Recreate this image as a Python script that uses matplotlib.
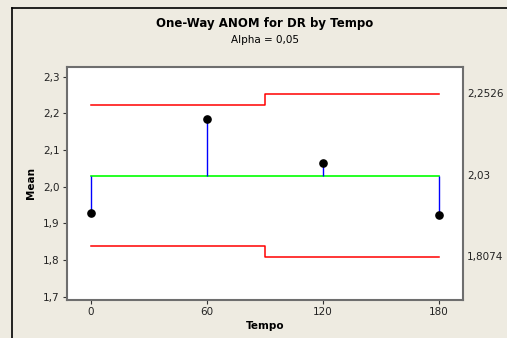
import matplotlib
matplotlib.use("Agg")
import matplotlib.pyplot as plt
from matplotlib.lines import Line2D

# Group means of DR by Tempo
tempo = [0, 60, 120, 180]
means = [1.927, 2.185, 2.064, 1.923]
center = 2.03

# Decision limits (step at the midpoint between 60 and 120)
limit_x = [0, 90, 180]
udl = [2.2227, 2.2526]
ldl = [1.8373, 1.8074]

yticks = [1.7, 1.8, 1.9, 2.0, 2.1, 2.2, 2.3]
ytick_labels = ["1,7", "1,8", "1,9", "2,0", "2,1", "2,2", "2,3"]
xticks = [0, 60, 120, 180]
right_labels = [(2.2526, "2,2526"), (2.03, "2,03"), (1.8074, "1,8074")]

bg = "#EEEBE1"
fig = plt.figure(figsize=(5.07, 3.38), dpi=100, facecolor=bg)
ax = fig.add_axes([0.1315, 0.1124, 0.7815, 0.6903])
ax.set_facecolor("white")

# Frame lines around the figure (top and left)
fig.add_artist(Line2D([12 / 507, 12 / 507], [0, 1 - 8 / 338], transform=fig.transFigure,
                      color="black", lw=1.2))
fig.add_artist(Line2D([12 / 507, 1], [1 - 8 / 338, 1 - 8 / 338], transform=fig.transFigure,
                      color="black", lw=1.2))

# Decision limits as step lines
ax.step(limit_x, udl + [udl[-1]], where="post", color="#FF0000", lw=1.1)
ax.step(limit_x, ldl + [ldl[-1]], where="post", color="#FF0000", lw=1.1)

# Center line
ax.plot([tempo[0], tempo[-1]], [center, center], color="#00FF00", lw=1.2)

# Vertical drops from center to each mean
ax.vlines(tempo, [center] * len(tempo), means, color="#0000FF", lw=1.0)
ax.plot(tempo, means, "o", color="black", markersize=5.2)

ax.set_xlim(-12.4, 192.6)
ax.set_ylim(1.691, 2.327)
ax.set_yticks(yticks)
ax.set_yticklabels(ytick_labels)
ax.set_xticks(xticks)
ax.tick_params(axis="both", labelsize=7.5, length=3, width=0.8, color="#333333",
               labelcolor="#222222", pad=2)

for s in ax.spines.values():
    s.set_color("#6E6E6E")
    s.set_linewidth(1.5)

for y, txt in right_labels:
    ax.text(1.01, y, txt, transform=ax.get_yaxis_transform(), ha="left", va="center",
            fontsize=7.5, color="#222222")

ax.set_xlabel("Tempo", fontsize=7.5, fontweight="bold", labelpad=3)
ax.set_ylabel("Mean", fontsize=7.5, fontweight="bold", labelpad=5)

cx = (0.1315 + 0.1315 + 0.7815) / 2
fig.text(cx, 1 - 24 / 338, "One-Way ANOM for DR by Tempo", ha="center", va="center",
         fontsize=8.5, fontweight="bold")
fig.text(cx, 1 - 40 / 338, "Alpha = 0,05", ha="center", va="center", fontsize=7.5)

fig.savefig("out.png", dpi=100, facecolor=bg)
